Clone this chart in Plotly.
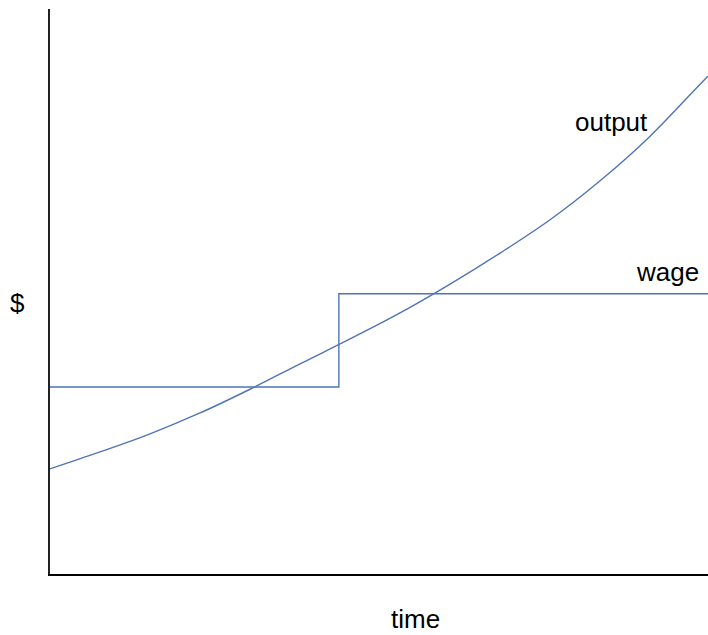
import plotly.graph_objects as go

# time units (0..100) and $ units (0..100)
output_time = [0, 7.6, 15.2, 22.8, 30.4, 38.0, 45.6, 53.2, 60.8, 68.4, 76.0, 83.6, 91.2, 98.8, 100]
output_value = [18.6, 21.6, 24.8, 28.5, 32.7, 37.2, 41.6, 46.2, 51.3, 56.8, 62.7, 69.6, 77.5, 86.7, 88.1]

wage_time = [0, 43.9, 43.9, 100]
wage_value = [33.1, 33.1, 49.6, 49.6]

line_color = "#4f74b5"

fig = go.Figure()
fig.add_trace(go.Scatter(x=output_time, y=output_value, mode="lines",
                         line=dict(color=line_color, width=1.4, shape="spline", smoothing=1.0),
                         hoverinfo="skip", showlegend=False))
fig.add_trace(go.Scatter(x=wage_time, y=wage_value, mode="lines",
                         line=dict(color=line_color, width=1.4),
                         hoverinfo="skip", showlegend=False))

font = dict(family="Liberation Sans, Arial, sans-serif", size=26, color="#000000")
common = dict(showarrow=False, font=font, xanchor="center", yanchor="middle")
fig.add_annotation(x=85.4, y=80, text="output", xref="x", yref="y", **common)
fig.add_annotation(x=93.9, y=53.5, text="wage", xref="x", yref="y", **common)
fig.add_annotation(x=0.555, y=-0.079, text="time", xref="paper", yref="paper", **common)
fig.add_annotation(x=-0.05, y=0.48, text="$", xref="paper", yref="paper", **common)

fig.update_layout(
    width=708, height=635,
    margin=dict(l=50, r=0, t=9, b=61),
    paper_bgcolor="white", plot_bgcolor="white",
    xaxis=dict(range=[0, 100], showgrid=False, zeroline=False, showticklabels=False,
               ticks="", showline=True, linecolor="#000000", linewidth=2),
    yaxis=dict(range=[0, 100], showgrid=False, zeroline=False, showticklabels=False,
               ticks="", showline=True, linecolor="#222222", linewidth=1.5),
)

fig.write_html("out.html", config={"displayModeBar": False},
               post_script="document.body.style.margin='0';document.body.style.overflow='hidden';")
